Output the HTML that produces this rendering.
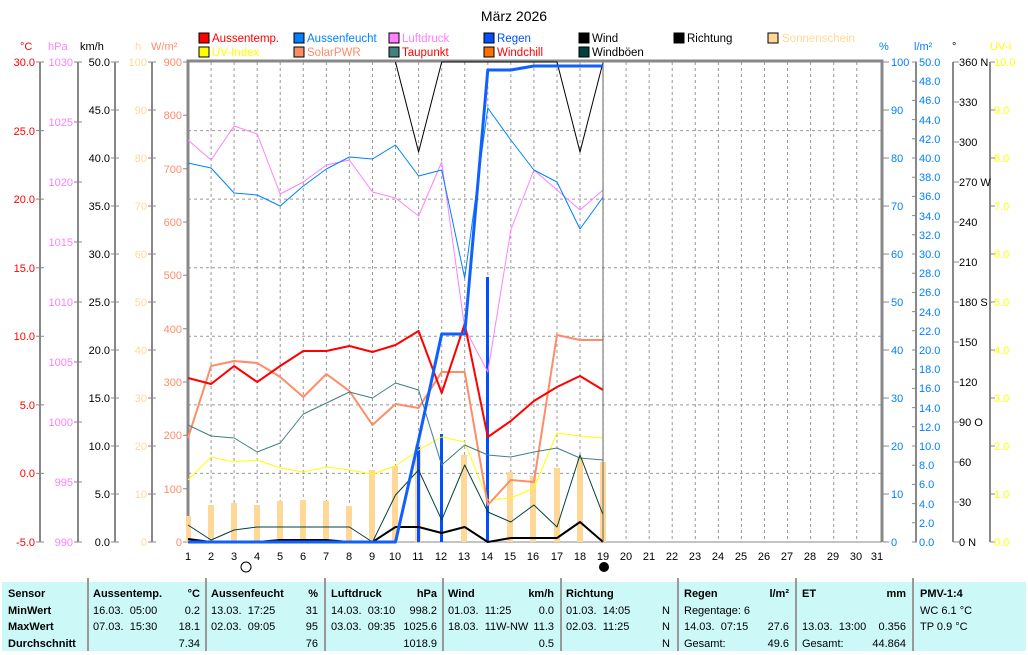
<!DOCTYPE html>
<html><head><meta charset="utf-8"><style>
body{margin:0;background:#fff;width:1028px;height:653px;overflow:hidden;font-family:"Liberation Sans",sans-serif}
svg{position:absolute;left:0;top:0}
.t{position:absolute;top:582px;height:69px;background:#ccf8f8;left:2px;width:1024px}
.c{position:absolute;top:582px;height:69px;font-size:11px;line-height:16.5px;padding-top:4px}
.sep{position:absolute;top:578px;height:73px;width:2px;background:#999}
b{font-weight:bold}
.r{float:right}
</style></head><body>
<svg width="1028" height="653" viewBox="0 0 1028 653" font-family="Liberation Sans, sans-serif" font-size="11">
<text x="514" y="21" text-anchor="middle" font-size="14">März 2026</text>
<g font-size="11.5">
<rect x="199" y="33" width="10" height="10" fill="#f00" stroke="#000"/><text x="212" y="42" fill="#f00">Aussentemp.</text>
<rect x="199" y="47" width="10" height="10" fill="#ff0" stroke="#000"/><text x="212" y="56" fill="#ff0">UV-Index</text>
<rect x="294" y="33" width="10" height="10" fill="#0080ff" stroke="#000"/><text x="307" y="42" fill="#0080ff">Aussenfeucht</text>
<rect x="294" y="47" width="10" height="10" fill="#ff8c69" stroke="#000"/><text x="307" y="56" fill="#ff8c69">SolarPWR</text>
<rect x="389" y="33" width="10" height="10" fill="#ff80ff" stroke="#000"/><text x="402" y="42" fill="#ff80ff">Luftdruck</text>
<rect x="389" y="47" width="10" height="10" fill="#408080" stroke="#000"/><text x="402" y="56" fill="#f00">Taupunkt</text>
<rect x="484" y="33" width="10" height="10" fill="#0050ff" stroke="#000"/><text x="497" y="42" fill="#0050ff">Regen</text>
<rect x="484" y="47" width="10" height="10" fill="#ff7000" stroke="#000"/><text x="497" y="56" fill="#f00">Windchill</text>
<rect x="579" y="33" width="10" height="10" fill="#000" stroke="#000"/><text x="592" y="42">Wind</text>
<rect x="579" y="47" width="10" height="10" fill="#004040" stroke="#000"/><text x="592" y="56">Windböen</text>
<rect x="674" y="33" width="10" height="10" fill="#000" stroke="#000"/><text x="687" y="42">Richtung</text>
<rect x="768" y="33" width="10" height="10" fill="#ffd898" stroke="#000"/><text x="782" y="42" fill="#ffd898">Sonnenschein</text>
</g>
<text x="20" y="50" fill="#f00">°C</text><text x="48" y="50" fill="#ff80ff">hPa</text><text x="80" y="50">km/h</text><text x="135" y="50" fill="#ffd898">h</text><text x="151" y="50" fill="#ff8c69">W/m²</text>
<text x="879" y="50" fill="#0080ff">%</text><text x="914" y="50" fill="#0080ff">l/m²</text><text x="952" y="50">°</text><text x="990" y="50" fill="#ff0">UV-I</text>
<g stroke="#999" stroke-dasharray="3,3" stroke-width="1">
<path d="M188 130.6H882M188 199.1H882M188 267.7H882M188 336.3H882M188 404.9H882M188 473.4H882"/>
<path d="M211.1 62V542M234.1 62V542M257.2 62V542M280.2 62V542M303.3 62V542M326.4 62V542M349.4 62V542M372.5 62V542M395.5 62V542M418.6 62V542M441.7 62V542M464.7 62V542M487.8 62V542M510.8 62V542M533.9 62V542M557 62V542M580 62V542M603.1 62V542M626.1 62V542M649.2 62V542M672.2 62V542M695.3 62V542M718.4 62V542M741.4 62V542M764.5 62V542M787.5 62V542M810.6 62V542M833.7 62V542M856.7 62V542"/>
</g>
<g stroke="#888" stroke-width="2" fill="none">
<path d="M40 62V542M78 62V542M115 62V542M152 62V542M916 62V542M953 62V542M990 62V542"/>
<path d="M188 542V61H882V542" stroke-width="3"/>
<path d="M188 542H882" stroke-width="1"/>
</g>
<g stroke="#888" stroke-width="1">
<path d="M36 62h8M36 130.6h8M36 199.1h8M36 267.7h8M36 336.3h8M36 404.9h8M36 473.4h8M36 542h8"/>
<path d="M74 62h8M74 122h8M74 182h8M74 242h8M74 302h8M74 362h8M74 422h8M74 482h8M74 542h8"/>
<path d="M111 62h8M111 110h8M111 158h8M111 206h8M111 254h8M111 302h8M111 350h8M111 398h8M111 446h8M111 494h8M111 542h8"/>
<path d="M148 62h8M148 110h8M148 158h8M148 206h8M148 254h8M148 302h8M148 350h8M148 398h8M148 446h8M148 494h8M148 542h8"/>
<path d="M183 62h5M183 115.3h5M183 168.7h5M183 222h5M183 275.3h5M183 328.7h5M183 382h5M183 435.3h5M183 488.7h5M183 542h5"/>
<path d="M883 62h6M883 110h6M883 158h6M883 206h6M883 254h6M883 302h6M883 350h6M883 398h6M883 446h6M883 494h6M883 542h6"/>
<path d="M912 62h5M912 81.2h5M912 100.4h5M912 119.6h5M912 138.8h5M912 158h5M912 177.2h5M912 196.4h5M912 215.6h5M912 234.8h5M912 254h5M912 273.2h5M912 292.4h5M912 311.6h5M912 330.8h5M912 350h5M912 369.2h5M912 388.4h5M912 407.6h5M912 426.8h5M912 446h5M912 465.2h5M912 484.4h5M912 503.6h5M912 522.8h5M912 542h5"/>
<path d="M953 62h6M953 102h6M953 142h6M953 182h6M953 222h6M953 262h6M953 302h6M953 342h6M953 382h6M953 422h6M953 462h6M953 502h6M953 542h6"/>
<path d="M990 62h5M990 110h5M990 158h5M990 206h5M990 254h5M990 302h5M990 350h5M990 398h5M990 446h5M990 494h5M990 542h5"/>
</g>
<g text-anchor="end">
<g fill="#f00"><text x="35" y="66">30.0</text><text x="35" y="135">25.0</text><text x="35" y="203">20.0</text><text x="35" y="272">15.0</text><text x="35" y="340">10.0</text><text x="35" y="409">5.0</text><text x="35" y="477">0.0</text><text x="35" y="546">-5.0</text></g>
<g fill="#ff80ff"><text x="73" y="66">1030</text><text x="73" y="126">1025</text><text x="73" y="186">1020</text><text x="73" y="246">1015</text><text x="73" y="306">1010</text><text x="73" y="366">1005</text><text x="73" y="426">1000</text><text x="73" y="486">995</text><text x="73" y="546">990</text></g>
<g><text x="110" y="66">50.0</text><text x="110" y="114">45.0</text><text x="110" y="162">40.0</text><text x="110" y="210">35.0</text><text x="110" y="258">30.0</text><text x="110" y="306">25.0</text><text x="110" y="354">20.0</text><text x="110" y="402">15.0</text><text x="110" y="450">10.0</text><text x="110" y="498">5.0</text><text x="110" y="546">0.0</text></g>
<g fill="#ffd898"><text x="147" y="66">100</text><text x="147" y="114">90</text><text x="147" y="162">80</text><text x="147" y="210">70</text><text x="147" y="258">60</text><text x="147" y="306">50</text><text x="147" y="354">40</text><text x="147" y="402">30</text><text x="147" y="450">20</text><text x="147" y="498">10</text><text x="147" y="546">0</text></g>
<g fill="#ff8c69"><text x="182" y="66">900</text><text x="182" y="119">800</text><text x="182" y="173">700</text><text x="182" y="226">600</text><text x="182" y="279">500</text><text x="182" y="333">400</text><text x="182" y="386">300</text><text x="182" y="439">200</text><text x="182" y="493">100</text><text x="182" y="546">0</text></g>
</g>
<g>
<g fill="#0080ff"><text x="891" y="66">100</text><text x="891" y="114">90</text><text x="891" y="162">80</text><text x="891" y="210">70</text><text x="891" y="258">60</text><text x="891" y="306">50</text><text x="891" y="354">40</text><text x="891" y="402">30</text><text x="891" y="450">20</text><text x="891" y="498">10</text><text x="891" y="546">0</text></g>
<g fill="#0080ff"><text x="919" y="66">50.0</text><text x="919" y="85">48.0</text><text x="919" y="104">46.0</text><text x="919" y="124">44.0</text><text x="919" y="143">42.0</text><text x="919" y="162">40.0</text><text x="919" y="181">38.0</text><text x="919" y="200">36.0</text><text x="919" y="220">34.0</text><text x="919" y="239">32.0</text><text x="919" y="258">30.0</text><text x="919" y="277">28.0</text><text x="919" y="296">26.0</text><text x="919" y="316">24.0</text><text x="919" y="335">22.0</text><text x="919" y="354">20.0</text><text x="919" y="373">18.0</text><text x="919" y="392">16.0</text><text x="919" y="412">14.0</text><text x="919" y="431">12.0</text><text x="919" y="450">10.0</text><text x="919" y="469">8.0</text><text x="919" y="488">6.0</text><text x="919" y="508">4.0</text><text x="919" y="527">2.0</text><text x="919" y="546">0.0</text></g>
<g><text x="959" y="66">360 N</text><text x="959" y="106">330</text><text x="959" y="146">300</text><text x="959" y="186">270 W</text><text x="959" y="226">240</text><text x="959" y="266">210</text><text x="959" y="306">180 S</text><text x="959" y="346">150</text><text x="959" y="386">120</text><text x="959" y="426">90  O</text><text x="959" y="466">60</text><text x="959" y="506">30</text><text x="959" y="546">0  N</text></g>
<g fill="#ff0"><text x="994" y="66">10.0</text><text x="994" y="114">9.0</text><text x="994" y="162">8.0</text><text x="994" y="210">7.0</text><text x="994" y="258">6.0</text><text x="994" y="306">5.0</text><text x="994" y="354">4.0</text><text x="994" y="402">3.0</text><text x="994" y="450">2.0</text><text x="994" y="498">1.0</text><text x="994" y="546">0.0</text></g>
</g>
<g fill="#ffd898">
<rect x="186" y="516" width="5" height="26"/><rect x="208" y="505" width="6" height="37"/><rect x="231" y="503" width="6" height="39"/><rect x="254" y="505" width="6" height="37"/><rect x="277" y="501" width="6" height="41"/><rect x="300" y="500" width="6" height="42"/><rect x="323" y="501" width="6" height="41"/><rect x="346" y="506" width="6" height="36"/><rect x="369" y="470" width="6" height="72"/><rect x="392" y="466" width="6" height="76"/><rect x="415" y="445" width="6" height="97"/><rect x="461" y="455" width="6" height="87"/><rect x="507" y="472" width="6" height="70"/><rect x="530" y="476" width="6" height="66"/><rect x="554" y="468" width="6" height="74"/><rect x="577" y="458" width="6" height="84"/><rect x="600" y="462" width="6" height="80"/>
</g>
<g fill="#0050ff"><rect x="417" y="447" width="3" height="95"/><rect x="440" y="434" width="3" height="108"/><rect x="486" y="277" width="3" height="265"/></g>
<g fill="none" stroke-linejoin="round">
<polyline stroke="#ffff00" stroke-width="1" points="188,480 211.1,457 234.1,462 257.2,460 280.2,468 303.3,472 326.4,467 349.4,470 372.5,474 395.5,466 418.6,450 441.7,437 464.7,442 487.8,500 510.8,498 533.9,488 557,433 580,436 603.1,438"/>
<polyline stroke="#ff8c69" stroke-width="2" points="188,438 211.1,366 234.1,361 257.2,363 280.2,377 303.3,397 326.4,374 349.4,391 372.5,425 395.5,404 418.6,408 441.7,372 464.7,372 487.8,505 510.8,480 533.9,482 557,335 580,340 603.1,340"/>
<polyline stroke="#408080" stroke-width="1" points="188,425 211.1,436 234.1,438 257.2,452 280.2,443 303.3,414 326.4,403 349.4,392 372.5,398 395.5,383 418.6,390 441.7,465 464.7,445 487.8,455 510.8,457 533.9,452 557,448 580,458 603.1,460"/>
<polyline stroke="#ff80ff" stroke-width="1" points="188,140 211.1,160 234.1,126 257.2,134 280.2,194 303.3,182 326.4,165 349.4,160 372.5,192 395.5,198 418.6,216 441.7,162 464.7,328 487.8,372 510.8,230 533.9,170 557,190 580,210 603.1,190"/>
<polyline stroke="#0080ff" stroke-width="1" points="188,163 211.1,168 234.1,193 257.2,195 280.2,206 303.3,186 326.4,169 349.4,157 372.5,159 395.5,145 418.6,176 441.7,170 464.7,278 487.8,108 510.8,140 533.9,170 557,182 580,229 603.1,197"/>
<polyline stroke="#f00" stroke-width="2" points="188,378 211.1,384 234.1,366 257.2,382 280.2,366 303.3,351 326.4,351 349.4,346 372.5,352 395.5,345 418.6,331 441.7,393 464.7,324 487.8,437 510.8,421 533.9,401 557,387 580,376 603.1,390"/>
<polyline stroke="#004040" stroke-width="1" points="188,525 211.1,540 234.1,530 257.2,527 280.2,527 303.3,527 326.4,527 349.4,527 372.5,542 395.5,495 418.6,470 441.7,520 464.7,465 487.8,512 510.8,522 533.9,505 557,527 580,455 603.1,515"/>
<polyline stroke="#000" stroke-width="2" points="188,539 211.1,542 234.1,542 257.2,542 280.2,540 303.3,540 326.4,540 349.4,542 372.5,542 395.5,527 418.6,527 441.7,533 464.7,527 487.8,542 510.8,538 533.9,538 557,538 580,522 603.1,542"/>
<polyline stroke="#000" stroke-width="1" points="395.5,62 418.6,152 441.7,62 557,62 580,152 603.1,62"/>
<polyline stroke="#1060ff" stroke-width="3" points="188,542 395.5,542 418.6,440 441.7,334 464.7,334 487.8,70 510.8,70 533.9,66 603.1,66"/>
</g>
<line x1="603" y1="62" x2="603" y2="542" stroke="#666" stroke-width="1"/>
<g text-anchor="middle">
<text x="188" y="560">1</text><text x="211" y="560">2</text><text x="234" y="560">3</text><text x="257" y="560">4</text><text x="280" y="560">5</text><text x="303" y="560">6</text><text x="326" y="560">7</text><text x="349" y="560">8</text><text x="372" y="560">9</text><text x="395" y="560">10</text><text x="418" y="560">11</text><text x="441" y="560">12</text><text x="464" y="560">13</text><text x="487" y="560">14</text><text x="510" y="560">15</text><text x="533" y="560">16</text><text x="557" y="560">17</text><text x="580" y="560">18</text><text x="603" y="560">19</text><text x="626" y="560">20</text><text x="649" y="560">21</text><text x="672" y="560">22</text><text x="695" y="560">23</text><text x="718" y="560">24</text><text x="741" y="560">25</text><text x="764" y="560">26</text><text x="787" y="560">27</text><text x="810" y="560">28</text><text x="833" y="560">29</text><text x="856" y="560">30</text><text x="877" y="560">31</text>
</g>
<circle cx="246" cy="567" r="5" fill="#fff" stroke="#000"/>
<circle cx="604" cy="567" r="5" fill="#000"/>
</svg>
<div class="t"></div>
<div class="sep" style="left:87px"></div><div class="sep" style="left:205px"></div><div class="sep" style="left:324px"></div><div class="sep" style="left:442px"></div><div class="sep" style="left:560px"></div><div class="sep" style="left:677px"></div><div class="sep" style="left:795px"></div><div class="sep" style="left:912px"></div>
<div class="c" style="left:8px;width:76px"><b>Sensor<br>MinWert<br>MaxWert<br>Durchschnitt</b></div>
<div class="c" style="left:93px;width:107px"><b>Aussentemp.</b><b class="r">°C</b><br>16.03.&nbsp; 05:00<span class="r">0.2</span><br>07.03.&nbsp; 15:30<span class="r">18.1</span><br>&nbsp;<span class="r">7.34</span></div>
<div class="c" style="left:211px;width:107px"><b>Aussenfeucht</b><b class="r">%</b><br>13.03.&nbsp; 17:25<span class="r">31</span><br>02.03.&nbsp; 09:05<span class="r">95</span><br>&nbsp;<span class="r">76</span></div>
<div class="c" style="left:331px;width:106px"><b>Luftdruck</b><b class="r">hPa</b><br>14.03.&nbsp; 03:10<span class="r">998.2</span><br>03.03.&nbsp; 09:35<span class="r">1025.6</span><br>&nbsp;<span class="r">1018.9</span></div>
<div class="c" style="left:448px;width:106px"><b>Wind</b><b class="r">km/h</b><br>01.03.&nbsp; 11:25<span class="r">0.0</span><br>18.03.&nbsp; 11W-NW<span class="r">11.3</span><br>&nbsp;<span class="r">0.5</span></div>
<div class="c" style="left:566px;width:104px"><b>Richtung</b><br>01.03.&nbsp; 14:05<span class="r">N</span><br>02.03.&nbsp; 11:25<span class="r">N</span><br>&nbsp;<span class="r">N</span></div>
<div class="c" style="left:684px;width:105px"><b>Regen</b><b class="r">l/m²</b><br>Regentage: 6<br>14.03.&nbsp; 07:15<span class="r">27.6</span><br>Gesamt:<span class="r">49.6</span></div>
<div class="c" style="left:802px;width:104px"><b>ET</b><b class="r">mm</b><br>&nbsp;<br>13.03.&nbsp; 13:00<span class="r">0.356</span><br>Gesamt:<span class="r">44.864</span></div>
<div class="c" style="left:920px;width:100px"><b>PMV-1:4</b><br>WC 6.1 °C<br>TP 0.9 °C</div>
</body></html>
